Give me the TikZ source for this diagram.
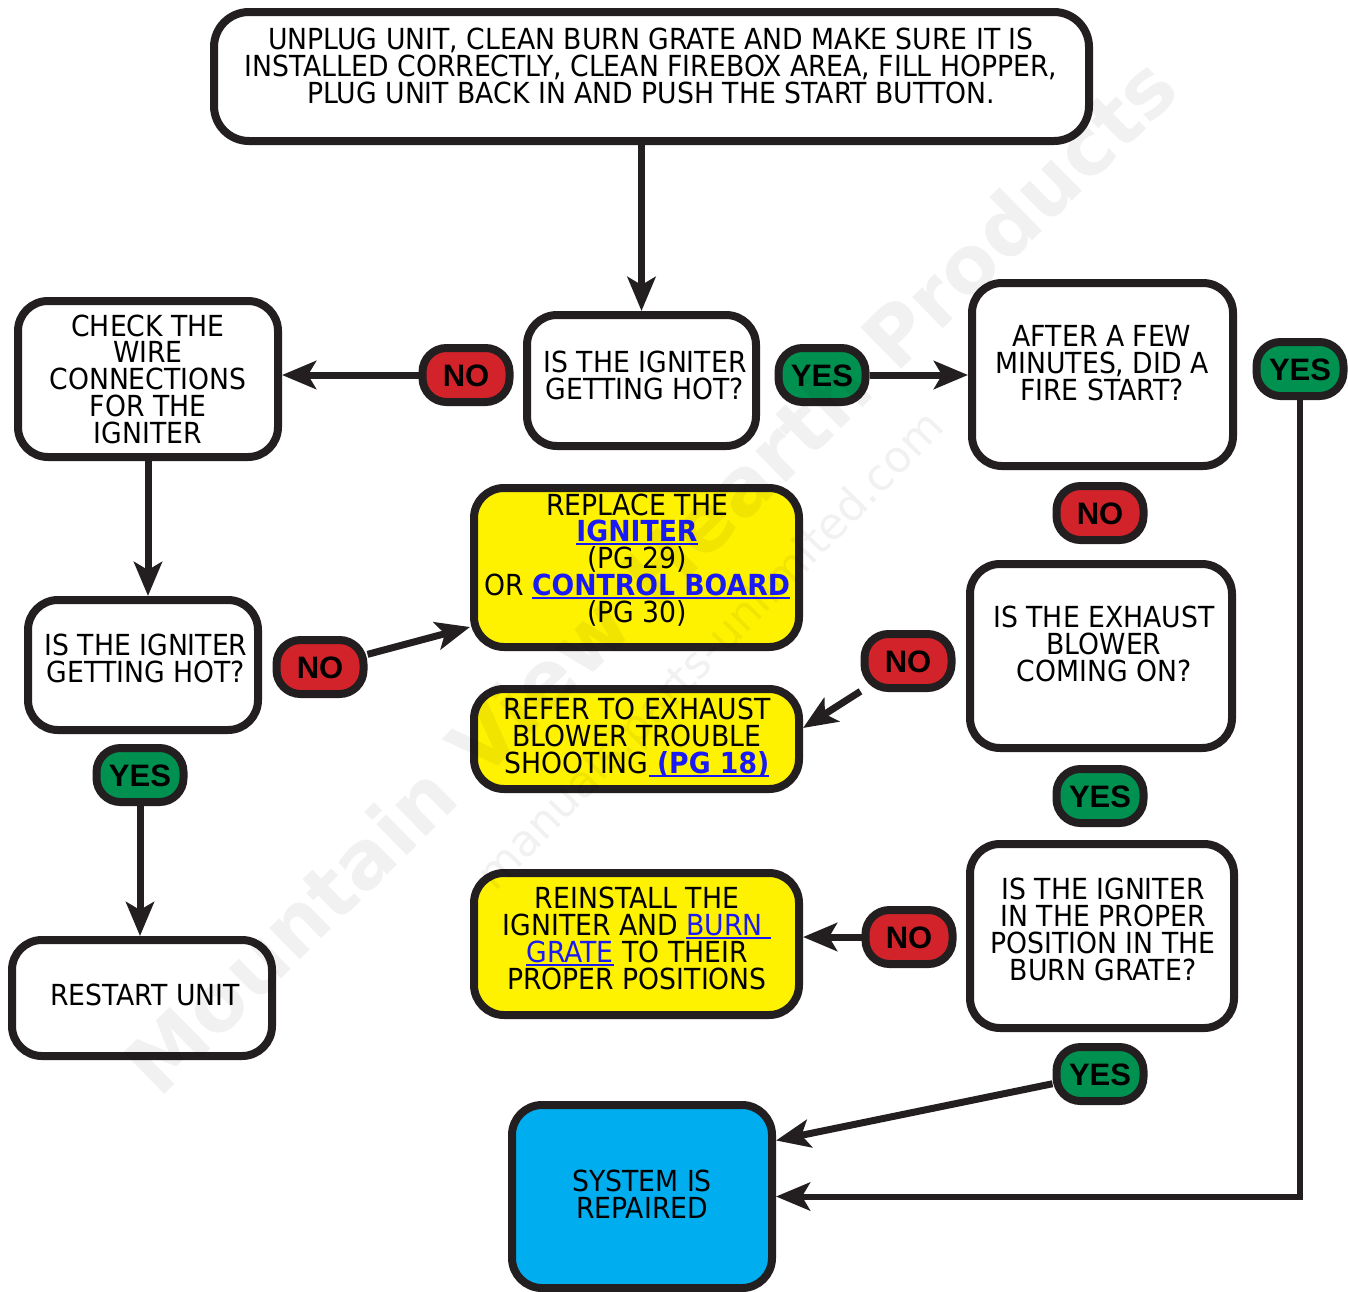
\documentclass[tikz,border=0pt]{standalone}
\usepackage{fontspec}
\setmainfont{DejaVu Sans}[FakeStretch=0.92]
\newfontfamily\pillfam{Liberation Sans}
\newfontfamily\wmfam{DejaVu Sans}
\usetikzlibrary{arrows.meta}
\definecolor{bd}{HTML}{231F20}
\definecolor{nored}{HTML}{D2232A}
\definecolor{yesgreen}{HTML}{009150}
\definecolor{boxyellow}{HTML}{FFF200}
\definecolor{sysblue}{HTML}{00AEEF}
\definecolor{linkblue}{HTML}{1A1AF5}
\newsavebox\ulbox
\newcommand\ulx[1]{\sbox\ulbox{#1}\rlap{\rule[-3.5pt]{\wd\ulbox}{2pt}}\usebox\ulbox}
\newcommand\lnk[1]{{\color{linkblue}#1}}
\newcommand\bodysize{\fontsize{29pt}{26.7pt}\selectfont\lineskiplimit=-30pt\lineskip=0pt}
\begin{document}
\begin{tikzpicture}[x=1pt,y=-1pt,
  box/.style={draw=bd, line width=8pt, rounded corners=30pt, fill=white, inner sep=0pt},
  ybox/.style={box, fill=boxyellow},
  txt/.style={align=center, font=\bodysize, inner sep=0pt, anchor=base},
  pill/.style={draw=bd, line width=8pt, rounded corners=24pt, minimum width=87pt, minimum height=54pt,
    inner sep=0pt, text height=22pt, text depth=0pt, font=\pillfam\bfseries\fontsize{31pt}{31pt}\selectfont},
  nopill/.style={pill, fill=nored},
  yespill/.style={pill, fill=yesgreen},
  arr/.style={draw=bd, line width=7pt, -{Stealth[length=34pt,width=28pt,inset=8pt]}},
  wm/.style={inner sep=0pt, text=black, opacity=0.055}
]
\fill[white] (0,0) rectangle (1348,1291);
\useasboundingbox (0,0) rectangle (1348,1291);

% boxes
\node[box, rounded corners=35pt, minimum width=875pt, minimum height=129pt] (top) at (651.5,76.5) {};
\node[box, minimum width=229pt, minimum height=131pt] (ig1) at (641.5,380.5) {};
\node[box, minimum width=260pt, minimum height=156pt] (chk) at (148,379) {};
\node[box, minimum width=261pt, minimum height=183pt] (aft) at (1102.5,374.5) {};
\node[ybox, minimum width=325pt, minimum height=159pt] (rep) at (636.5,567.5) {};
\node[box, minimum width=230pt, minimum height=130pt] (ig2) at (143,665) {};
\node[ybox, minimum width=325pt, minimum height=100pt] (ref) at (636.5,739) {};
\node[box, minimum width=262pt, minimum height=184pt] (exh) at (1101,656) {};
\node[box, minimum width=260pt, minimum height=116pt] (rst) at (142,998) {};
\node[ybox, minimum width=325pt, minimum height=142pt] (rei) at (636.5,944) {};
\node[box, minimum width=264pt, minimum height=184pt] (ipos) at (1102,936) {};
\node[box, fill=sysblue, minimum width=260pt, minimum height=183pt] (sys) at (642,1196.5) {};

% pills
\node[nopill] (no1) at (466,375) {NO};
\node[yespill] (yes1) at (822,375) {YES};
\node[yespill] (yes2) at (1300,369) {YES};
\node[nopill] (no5) at (1100,513) {NO};
\node[nopill] (no2) at (320,667) {NO};
\node[nopill] (no3) at (908,661) {NO};
\node[yespill] (yes4) at (1100,796) {YES};
\node[yespill] (yes3) at (140,775) {YES};
\node[nopill] (no4) at (909,937) {NO};
\node[yespill] (yes5) at (1100,1074) {YES};

% connectors
\draw[arr] (top.south -| ig1.north) -- (ig1.north);
\draw[arr] (no1.west) -- (no1.west -| chk.east);
\draw[arr] (yes1.east) -- (yes1.east -| aft.west);
\draw[arr, line width=6pt] (yes2.south) |- (sys.east);
\draw[arr] (chk.south) -- (chk.south |- ig2.north);
\draw[arr] (no2) -- ([yshift=24pt]rep.south west);
\draw[arr] (no3) -- ([yshift=11pt]ref.east);
\draw[arr] (yes3.south) -- (yes3.south |- rst.north);
\draw[arr] (no4.west) -- (no4.west -| rei.east);
\draw[arr] (yes5) -- ([yshift=56pt]sys.east);

% texts (anchor = baseline of the last line)
\node[txt] (ttop) at (651,103) {UNPLUG UNIT, CLEAN BURN GRATE AND MAKE SURE IT IS\\INSTALLED CORRECTLY, CLEAN FIREBOX AREA, FILL HOPPER,\\PLUG UNIT BACK IN AND PUSH THE START BUTTON.};
\node[txt] (tig1) at (645,399) {IS THE IGNITER\\GETTING HOT?};
\node[txt] (tchk) at (148,443) {CHECK THE\\WIRE\\CONNECTIONS\\FOR THE\\IGNITER};
\node[txt] (taft) at (1102,400) {AFTER A FEW\\MINUTES, DID A\\FIRE START?};
\node[txt] (trep) at (637,622) {REPLACE THE\\\lnk{\ulx{\bfseries IGNITER}}\\(PG 29)\\OR \lnk{\ulx{\bfseries CONTROL BOARD}}\\(PG 30)};
\node[txt] (tig2) at (146,682) {IS THE IGNITER\\GETTING HOT?};
\node[txt] (tref) at (637,773) {REFER TO EXHAUST\\BLOWER TROUBLE\\SHOOTING\lnk{\ulx{\ \bfseries(PG 18)}}};
\node[txt] (texh) at (1104,681) {IS THE EXHAUST\\BLOWER\\COMING ON?};
\node[txt] (trst) at (145,1005) {RESTART UNIT};
\node[txt] (trei) at (637,989) {REINSTALL THE\\IGNITER AND \lnk{\ulx{BURN\ }}\\\lnk{\ulx{GRATE}} TO THEIR\\PROPER POSITIONS};
\node[txt] (tipos) at (1103,980) {IS THE IGNITER\\IN THE PROPER\\POSITION IN THE\\BURN GRATE?};
\node[txt] (tsys) at (642,1218) {SYSTEM IS\\REPAIRED};

% watermark
\node[wm, rotate=44.5, font=\wmfam\bfseries\fontsize{80pt}{80pt}\selectfont] (wm1) at (650,575) {Mountain View Hearth Products};
\node[wm, rotate=45.8, font=\wmfam\fontsize{44pt}{44pt}\selectfont] (wm2) at (712,652) {manuals.parts-unlimited.com};
\end{tikzpicture}
\end{document}
